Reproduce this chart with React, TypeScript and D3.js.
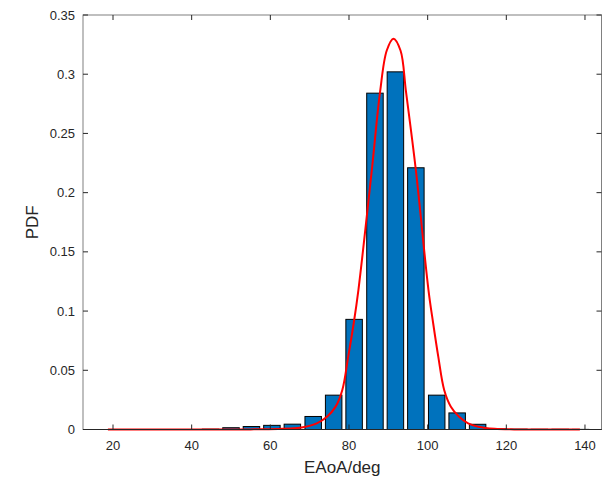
import React from "react";
import * as d3 from "d3";

const binCenters = [18.6, 23.8, 29.0, 34.3, 39.5, 44.8, 50.0, 55.2, 60.4, 65.6, 70.9, 76.1, 81.3, 86.6, 91.8, 97.0, 102.3, 107.5, 112.7, 118.0, 123.2, 128.4, 133.7, 138.9];
const pdfValues = [0, 0, 0, 0, 0, 0.0003, 0.0015, 0.0025, 0.0035, 0.0045, 0.011, 0.029, 0.093, 0.284, 0.302, 0.221, 0.029, 0.014, 0.0044, 0.0005, 0.0003, 0.0002, 0.0002, 0.0001];

const fitX = [18.7, 40, 55, 62, 66, 68.3, 71.8, 74.4, 76.6, 78.3, 79.8, 81.2, 82.4, 85.8, 87.9, 89.6, 91.3, 93.1, 94.5, 97.0, 100.2, 101.4, 102.7, 104.2, 105.9, 108.0, 110.3, 112.9, 117, 122, 130, 138.7];
const fitY = [0, 0, 0.0001, 0.0004, 0.001, 0.0019, 0.0052, 0.0108, 0.0193, 0.0334, 0.0615, 0.0897, 0.118, 0.219, 0.285, 0.320, 0.330, 0.320, 0.285, 0.219, 0.118, 0.0897, 0.0615, 0.0334, 0.0193, 0.0108, 0.0052, 0.0024, 0.0006, 0.0001, 0, 0];

const xTicks = [20, 40, 60, 80, 100, 120, 140];
const yTicks = [0, 0.05, 0.1, 0.15, 0.2, 0.25, 0.3, 0.35];

const W = 608;
const H = 491;
const L = 83, R = 601.5, T = 15, B = 429.5;
const binWidth = 5.24;

export default function App() {
  const x = d3.scaleLinear().domain([12.37, 144.2]).range([L, R]);
  const y = d3.scaleLinear().domain([0, 0.35]).range([B, T]);
  const line = d3.line<number>().x((_, i) => x(fitX[i])).y((d) => Math.min(B, y(d))).curve(d3.curveCatmullRom.alpha(0.5));
  const bw = x(binWidth * 0.8) - x(0);
  const font = "'Liberation Sans', Arial, sans-serif";
  const axisColor = "#808080";
  return (
    <svg width={W} height={H} style={{ position: "absolute", left: 0, top: 0 }} fontFamily={font}>
      <rect x={0} y={0} width={W} height={H} fill="#fff" />
      {binCenters.map((c, i) => (
        <rect key={i} x={x(c) - bw / 2} y={y(pdfValues[i])} width={bw} height={Math.max(0, B - y(pdfValues[i]))}
          fill="#0072BD" stroke="#000" strokeWidth={1} />
      ))}
      <path d={line(fitY) || ""} fill="none" stroke="#FF0000" strokeWidth={2} />
      <rect x={L} y={T} width={R - L} height={B - T} fill="none" stroke={axisColor} strokeWidth={1} />
      <line x1={L} x2={R} y1={B} y2={B} stroke="#262626" strokeWidth={1} />
      {xTicks.map((t) => (
        <g key={t}>
          <line x1={x(t)} x2={x(t)} y1={B} y2={B - 5} stroke="#262626" />
          <line x1={x(t)} x2={x(t)} y1={T} y2={T + 5} stroke="#262626" />
          <text x={x(t)} y={B + 20} textAnchor="middle" fontSize={13} fill="#262626">{t}</text>
        </g>
      ))}
      {yTicks.map((t) => (
        <g key={t}>
          <line x1={L} x2={L + 5} y1={y(t)} y2={y(t)} stroke="#262626" />
          <line x1={R} x2={R - 5} y1={y(t)} y2={y(t)} stroke="#262626" />
          <text x={L - 8} y={y(t) + 4.5} textAnchor="end" fontSize={13} fill="#262626">{String(t)}</text>
        </g>
      ))}
      <text x={(L + R) / 2} y={473} textAnchor="middle" fontSize={17} fill="#262626">EAoA/deg</text>
      <text transform={`translate(38, ${(T + B) / 2}) rotate(-90)`} textAnchor="middle" fontSize={17} fill="#262626">PDF</text>
    </svg>
  );
}
